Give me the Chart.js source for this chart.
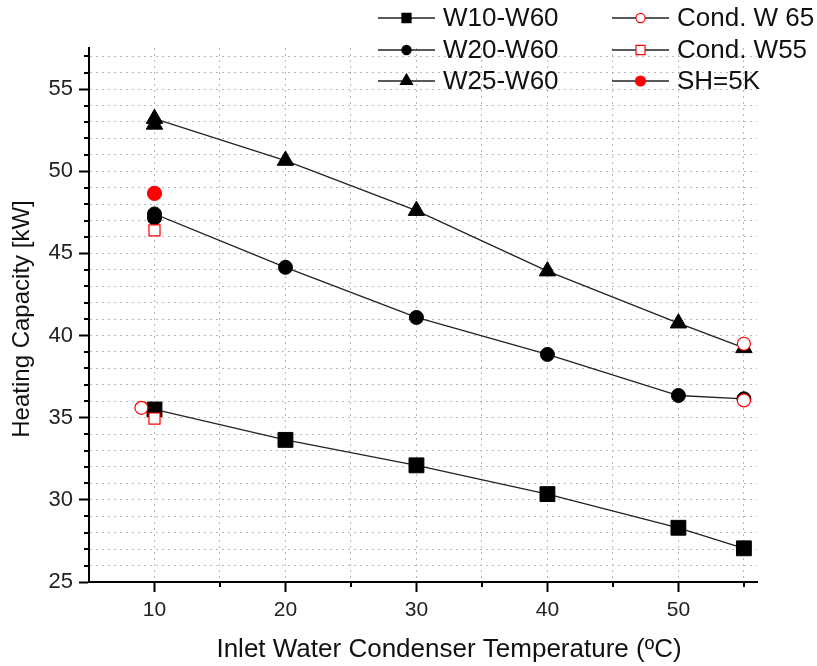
<!DOCTYPE html>
<html>
<head>
<meta charset="utf-8">
<script src="https://cdn.jsdelivr.net/npm/chart.js@4.4.0/dist/chart.umd.min.js"></script>
<style>
html, body { margin: 0; padding: 0; background: #fff; }
#wrap { width: 817px; height: 666px; }
</style>
</head>
<body>
<div id="wrap"><canvas id="chart" width="817" height="666"></canvas></div>
<script>
// measured heating capacity [kW] vs inlet water temperature [C]
var w10X = [10, 20, 30, 40, 50, 55];
var w10Y = [35.5, 33.65, 32.1, 30.35, 28.3, 27.05];
var w20X = [10, 10, 20, 30, 40, 50, 55];
var w20Y = [47.15, 47.4, 44.15, 41.1, 38.85, 36.35, 36.15];
var w25X = [10, 10, 20, 30, 40, 50, 55];
var w25Y = [52.85, 53.2, 50.65, 47.6, 43.92, 40.75, 39.25];
var cond65X = [9, 55, 55];
var cond65Y = [35.6, 39.5, 36.05];
var cond55X = [10, 10];
var cond55Y = [46.4, 34.95];
var sh5X = [10];
var sh5Y = [48.65];

var seriesNames = ['W10-W60', 'W20-W60', 'W25-W60', 'Cond. W 65', 'Cond. W55', 'SH=5K'];
var xTicks = [5, 10, 15, 20, 25, 30, 35, 40, 45, 50, 55];
var legendRadius = [6.4, 4.6, 7, 4.6, 6.4, 5];

var FONT = '"Liberation Sans", Arial, sans-serif';
var GRID = '#b8b8b8';

function pts(xs, ys) {
    return xs.map(function(x, i) { return {x: x, y: ys[i]}; });
}

function blackSeries(label, xs, ys, style, r) {
    return {
        label: label,
        data: pts(xs, ys),
        showLine: true,
        borderColor: '#222',
        borderWidth: 1.3,
        pointStyle: style,
        pointRadius: r,
        pointBackgroundColor: '#000',
        pointBorderColor: '#000',
        pointBorderWidth: 1,
        order: 2
    };
}

function redSeries(label, xs, ys, style, r, filled) {
    return {
        label: label,
        data: pts(xs, ys),
        showLine: false,
        pointStyle: style,
        pointRadius: r,
        pointBackgroundColor: filled ? '#ff0000' : '#ffffff',
        pointBorderColor: '#ff0000',
        pointBorderWidth: 1.2,
        order: 1
    };
}

// major ticks every 10 on x and 5 on y, the rest are short minor ticks
function isMajorX(v) { return v % 10 === 0; }
function isMajorY(v) { return v % 5 === 0; }

var minorTickPlugin = {
    id: 'minorTicks',
    afterDraw: function(chart) {
        var ctx = chart.ctx;
        var xs = chart.scales.x, ys = chart.scales.y;
        var bottom = chart.chartArea.bottom, left = chart.chartArea.left;
        ctx.save();
        ctx.strokeStyle = '#000';
        ctx.lineWidth = 2;
        ctx.beginPath();
        xs.ticks.forEach(function(t) {
            if (isMajorX(t.value) || t.value === 5) return;
            var px = Math.round(xs.getPixelForValue(t.value));
            ctx.moveTo(px, bottom);
            ctx.lineTo(px, bottom + 5);
        });
        ys.ticks.forEach(function(t) {
            if (isMajorY(t.value)) return;
            var py = Math.round(ys.getPixelForValue(t.value));
            ctx.moveTo(left, py);
            ctx.lineTo(left - 5, py);
        });
        ctx.stroke();
        ctx.restore();
    }
};

var legendPlugin = {
    id: 'cornerLegend',
    afterDraw: function(chart) {
        var ctx = chart.ctx;
        var cols = [378, 612];
        var rows = [18, 50, 81];
        chart.data.datasets.forEach(function(ds, i) {
            var x0 = cols[Math.floor(i / 3)];
            var y = rows[i % 3];
            ctx.save();
            ctx.strokeStyle = '#222';
            ctx.lineWidth = 1.5;
            ctx.beginPath();
            ctx.moveTo(x0, y);
            ctx.lineTo(x0 + 57, y);
            ctx.stroke();
            ctx.fillStyle = ds.pointBackgroundColor;
            ctx.strokeStyle = ds.pointBorderColor;
            ctx.lineWidth = 1.2;
            Chart.helpers.drawPoint(ctx, {pointStyle: ds.pointStyle, radius: legendRadius[i], rotation: 0, borderWidth: 1.2}, x0 + 28.5, y);
            ctx.fillStyle = '#111';
            ctx.font = '26px ' + FONT;
            ctx.textAlign = 'left';
            ctx.textBaseline = 'middle';
            ctx.fillText(seriesNames[i], x0 + 65, y + 1);
            ctx.restore();
        });
    }
};

var titlePlugin = {
    id: 'axisTitles',
    afterDraw: function(chart) {
        var ctx = chart.ctx;
        ctx.save();
        ctx.fillStyle = '#111';
        ctx.textAlign = 'center';
        ctx.textBaseline = 'middle';
        ctx.font = '26px ' + FONT;
        ctx.fillText('Inlet Water Condenser Temperature (\u00baC)', 449, 650);
        ctx.translate(22, 319);
        ctx.rotate(-Math.PI / 2);
        ctx.font = '24px ' + FONT;
        ctx.fillText('Heating Capacity [kW]', 0, 0);
        ctx.restore();
    }
};

var ctx = document.getElementById('chart');
var chart = new Chart(ctx, {
    type: 'scatter',
    data: {
        datasets: [
            blackSeries(seriesNames[0], w10X, w10Y, 'rect', 10.5),
            blackSeries(seriesNames[1], w20X, w20Y, 'circle', 7),
            blackSeries(seriesNames[2], w25X, w25Y, 'triangle', 9.5),
            redSeries(seriesNames[3], cond65X, cond65Y, 'circle', 6.5, false),
            redSeries(seriesNames[4], cond55X, cond55Y, 'rect', 7.8, false),
            redSeries(seriesNames[5], sh5X, sh5Y, 'circle', 7, true)
        ]
    },
    options: {
        responsive: false,
        animation: false,
        layout: { padding: { top: 48, right: 60, left: 0, bottom: 0 } },
        plugins: {
            legend: { display: false },
            tooltip: { enabled: false }
        },
        scales: {
            x: {
                type: 'linear',
                min: 5,
                max: 56,
                afterBuildTicks: function(axis) {
                    axis.ticks = xTicks.map(function(v) { return {value: v}; });
                },
                afterFit: function(axis) { axis.height = 84; },
                ticks: {
                    autoSkip: false,
                    maxRotation: 0,
                    padding: 6,
                    color: '#222',
                    font: { family: FONT, size: 21 },
                    callback: function(v) { return isMajorX(v) ? v : ''; }
                },
                grid: {
                    color: function(c) { return c.tick && c.tick.value === 5 ? 'rgba(0,0,0,0)' : GRID; },
                    lineWidth: 1,
                    tickColor: function(c) { return c.tick && isMajorX(c.tick.value) ? '#000' : 'rgba(0,0,0,0)'; },
                    tickWidth: 2,
                    tickLength: 10
                },
                border: { display: true, color: '#000', width: 2, dash: [2, 4] }
            },
            y: {
                min: 25,
                max: 57.5,
                afterFit: function(axis) { axis.width = 89; },
                ticks: {
                    stepSize: 1,
                    includeBounds: false,
                    autoSkip: false,
                    padding: 6,
                    color: '#222',
                    font: { family: FONT, size: 22 },
                    callback: function(v) { return isMajorY(v) ? v : ''; }
                },
                grid: {
                    color: function(c) { return c.tick && c.tick.value === 25 ? 'rgba(0,0,0,0)' : GRID; },
                    lineWidth: 1,
                    tickColor: function(c) { return c.tick && isMajorY(c.tick.value) ? '#000' : 'rgba(0,0,0,0)'; },
                    tickWidth: 2,
                    tickLength: 10
                },
                border: { display: true, color: '#000', width: 2, dash: [2, 4] }
            }
        }
    },
    plugins: [minorTickPlugin, legendPlugin, titlePlugin]
});
</script>
</body>
</html>
